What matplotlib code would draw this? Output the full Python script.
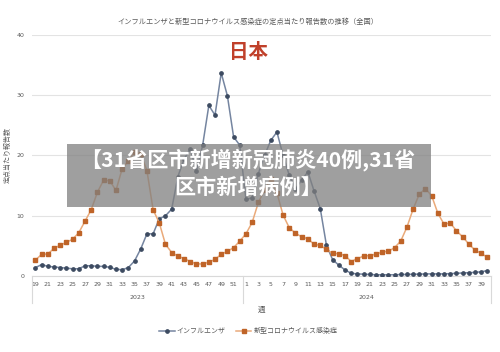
import matplotlib.pyplot as plt
from matplotlib.patches import Rectangle

# weekly reports per sentinel site, Japan, 2023 w19 - 2024 w40
weeks_2023 = list(range(19, 53))
weeks_2024 = list(range(1, 41))

flu = [1.4, 1.9, 1.6, 1.5, 1.4, 1.3, 1.2, 1.2, 1.7, 1.7,
       1.6, 1.6, 1.45, 1.1, 1.05, 1.4, 2.5, 4.5, 7.0, 7.0,
       9.5, 10.0, 11.1, 16.5, 19.4, 21.1, 17.4, 21.7, 28.3, 26.7,
       33.7, 29.9, 23.1, 21.7,
       12.7, 13.0, 17.0, 20.0, 22.5, 23.9, 20.0, 16.7, 14.5, 15.9,
       17.3, 14.1, 11.2, 5.1, 2.7, 1.8, 1.0, 0.45, 0.35, 0.3,
       0.25, 0.2, 0.2, 0.2, 0.2, 0.25, 0.25, 0.3, 0.3, 0.35,
       0.35, 0.35, 0.35, 0.4, 0.45, 0.5, 0.55, 0.6, 0.7, 0.9]

covid = [2.65, 3.6, 3.65, 4.6, 5.1, 5.6, 6.1, 7.2, 9.1, 11.0,
         13.9, 15.9, 15.8, 14.2, 17.8, 19.1, 20.5, 20.2, 17.5, 11.0,
         8.8, 5.25, 3.9, 3.3, 2.9, 2.4, 2.0, 2.0, 2.3, 2.75,
         3.6, 4.1, 4.7, 5.8,
         7.0, 8.9, 12.2, 14.3, 16.1, 13.8, 10.1, 8.0, 7.1, 6.5,
         6.2, 5.25, 5.1, 4.4, 3.75, 3.7, 3.4, 2.4, 2.9, 3.3,
         3.4, 3.6, 4.0, 4.1, 4.7, 5.8, 8.1, 11.1, 13.6, 14.5,
         13.3, 10.4, 8.6, 8.8, 7.5, 6.5, 5.3, 4.3, 3.75, 3.1]

years = ["2023", "2024"]
y_ticks = [0, 10, 20, 30, 40]

JP = ["Noto Sans CJK JP", "DejaVu Sans"]
SC = ["Noto Sans CJK SC", "DejaVu Sans"]
GRAY = "#595959"

week_labels = weeks_2023 + weeks_2024
x = list(range(len(week_labels)))

fig = plt.figure(figsize=(5, 3.52), dpi=100)
ax = fig.add_axes([0.0648, 0.2159, 0.9162, 0.6847])

ax.plot(x, flu, color="#7585a0", lw=1.1, marker="o", ms=2.4,
        mfc="#3d4b61", mec="#3d4b61", label="インフルエンザ", zorder=3)
ax.plot(x, covid, color="#eaaa7a", lw=1.1, marker="s", ms=2.5,
        mfc="#bf6428", mec="#bf6428", label="新型コロナウイルス感染症", zorder=3)

ax.set_xlim(-0.5, len(x) - 0.5)
ax.set_ylim(0, 40)
ax.set_yticks(y_ticks)
ax.set_yticklabels([str(v) for v in y_ticks], fontsize=4.5, color=GRAY)
ax.grid(axis="y", color="#e3e3e3", lw=0.8)
ax.set_axisbelow(True)
for s in ["top", "right", "left"]:
    ax.spines[s].set_visible(False)
ax.spines["bottom"].set_color("#d9d9d9")
ax.tick_params(axis="y", length=0, pad=6)

ax.set_xticks(x[::2])
ax.set_xticklabels([str(w) for w in week_labels[::2]], fontsize=4.5, color=GRAY)
ax.tick_params(axis="x", length=0, pad=4)

# year grouping below the axis
n23 = len(weeks_2023)
for xb in [-0.5, n23 - 0.5, len(x) - 0.5]:
    ax.plot([xb, xb], [0, -0.11], transform=ax.get_xaxis_transform(),
            color="#d9d9d9", lw=0.8, clip_on=False)
ax.text((n23 - 1) / 2, -0.09, years[0], transform=ax.get_xaxis_transform(),
        ha="center", va="center", fontsize=4.5, color=GRAY)
ax.text(n23 + (len(weeks_2024) - 1) / 2, -0.09, years[1],
        transform=ax.get_xaxis_transform(),
        ha="center", va="center", fontsize=4.5, color=GRAY)

ax.set_ylabel("定点当たり報告数", family=JP, fontsize=5, color=GRAY)
ax.yaxis.set_label_coords(-0.045, 0.5)
fig.text(0.523, 1 - 310 / 352, "週", family=JP, fontsize=5.5, color=GRAY,
         ha="center", va="center")

fig.text(0.496, 1 - 22 / 352,
         "インフルエンザと新型コロナウイルス感染症の定点当たり報告数の推移（全国）",
         family=JP, fontsize=5.2, color=GRAY, ha="center", va="center")
fig.text(0.496, 1 - 52 / 352, "日本", family=JP, fontsize=14,
         color="#c0402a", ha="center", va="center", weight="bold")

fig.legend(loc="center", bbox_to_anchor=(0.497, 1 - 331 / 352), ncol=2,
           frameon=False, prop={"family": JP, "size": 5}, labelcolor=GRAY,
           handlelength=2.2, columnspacing=1.5, handletextpad=0.3)

# overlay banner
fig.patches.append(Rectangle((67 / 500, 1 - 207 / 352), 364 / 500, 63 / 352,
                             transform=fig.transFigure, facecolor="#7f7f7f",
                             alpha=0.75, edgecolor="none", zorder=5))
fig.text(0.496, 1 - 160 / 352, "【31省区市新增新冠肺炎40例,31省",
         family=SC, fontsize=15.2, weight="bold", color="white",
         ha="center", va="center", zorder=6)
fig.text(0.496, 1 - 187 / 352, "区市新增病例】",
         family=SC, fontsize=15.2, weight="bold", color="white",
         ha="center", va="center", zorder=6)

fig.savefig("out.png", dpi=100)
